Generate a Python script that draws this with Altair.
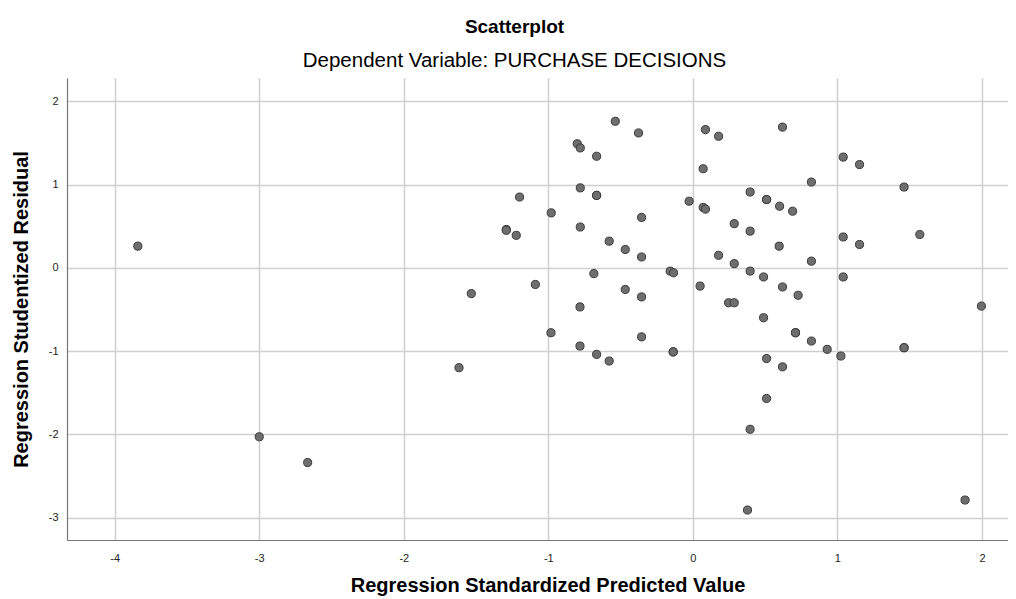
import altair as alt
import pandas as pd

pred = [-3.84, -3.00, -2.665, -1.533, -1.618, -0.537, -0.376, -0.80, -0.779, -0.666,
        0.071, -0.779, -0.666, -0.666, -1.199, -0.026, 0.071, 0.087, -0.98, -0.355,
        -1.291, -1.291, -1.222, -0.779, -0.579, -0.468, -0.355, -0.685, -0.157, -0.134,
        -1.09, -0.468, -0.355, -0.781, -0.982, -0.355, -0.781, -0.666, -0.579, -0.136,
        -0.136, 0.05, 0.087, 0.178, 0.62, 1.04, 1.153, 0.82, 1.461, 0.396,
        0.51, 0.51, 0.60, 0.69, 0.286, 0.396, 0.597, 1.04, 1.153, 1.57,
        0.178, 0.286, 0.396, 0.489, 0.82, 1.04, 0.62, 0.728, 0.247, 0.286,
        0.489, 0.71, 0.71, 0.82, 0.929, 1.461, 1.461, 1.024, 0.51, 0.62,
        1.996, 0.51, 0.396, 0.378, 1.883]
resid = [0.26, -2.03, -2.34, -0.31, -1.20, 1.76, 1.62, 1.49, 1.44, 1.34,
         1.19, 0.96, 0.87, 0.87, 0.85, 0.80, 0.725, 0.705, 0.66, 0.605,
         0.46, 0.45, 0.39, 0.49, 0.32, 0.22, 0.13, -0.07, -0.04, -0.06,
         -0.20, -0.26, -0.35, -0.47, -0.78, -0.83, -0.94, -1.04, -1.12, -1.01,
         -1.01, -0.22, 1.66, 1.58, 1.69, 1.33, 1.24, 1.03, 0.97, 0.91,
         0.82, 0.82, 0.74, 0.68, 0.53, 0.44, 0.26, 0.37, 0.28, 0.40,
         0.15, 0.05, -0.04, -0.11, 0.08, -0.11, -0.23, -0.33, -0.42, -0.42,
         -0.60, -0.78, -0.78, -0.88, -0.98, -0.96, -0.96, -1.06, -1.09, -1.19,
         -0.46, -1.57, -1.94, -2.91, -2.79]

x_ticks = [-4, -3, -2, -1, 0, 1, 2]
y_ticks = [-3, -2, -1, 0, 1, 2]

df = pd.DataFrame({"pred": pred, "resid": resid})

FONT = "Liberation Sans"
W, H = 941, 462

chart = alt.Chart(df).mark_point(
    filled=True, size=66, fill="#6e6e6e", stroke="#3a3a3a", strokeWidth=1, opacity=1
).encode(
    x=alt.X("pred:Q", scale=alt.Scale(domain=[-4.33, 2.18], nice=False, zero=False),
            axis=alt.Axis(values=x_ticks, title="Regression Standardized Predicted Value",
                          labelExpr="'' + datum.value",
                          titleX=W / 2 + 10, titleY=51, titleBaseline="alphabetic",
                          titleAlign="center")),
    y=alt.Y("resid:Q", scale=alt.Scale(domain=[-3.27, 2.28], nice=False, zero=False),
            axis=alt.Axis(values=y_ticks, title="Regression Studentized Residual",
                          labelExpr="'' + datum.value",
                          titleX=-46, titleY=H / 2, titleBaseline="middle", titleAlign="center",
                          titleAngle=-90)),
).properties(
    width=W, height=H,
    title=alt.TitleParams(
        "Scatterplot",
        subtitle="Dependent Variable: PURCHASE DECISIONS",
        anchor="middle", font=FONT, fontSize=19, fontWeight="bold", color="#000000",
        subtitleFont=FONT, subtitleFontSize=20.5, subtitleColor="#000000",
        subtitlePadding=14, offset=7, dx=-23,
    ),
    autosize=alt.AutoSizeParams(type="none"),
    padding={"left": 59, "top": 70, "right": 0, "bottom": 60},
).configure_view(
    stroke=None
).configure_axis(
    labelFont=FONT, labelFontSize=11, labelColor="#222222",
    titleFont=FONT, titleFontSize=20, titleFontWeight="bold", titleColor="#000000",
    ticks=False, domainColor="#777777", domainWidth=1.2,
    gridColor="#d0d0d0", gridWidth=1.5,
).configure_axisX(
    labelPadding=12
).configure_axisY(
    labelPadding=9
)

chart.save("out.html", embed_options={"renderer": "svg", "actions": False})
